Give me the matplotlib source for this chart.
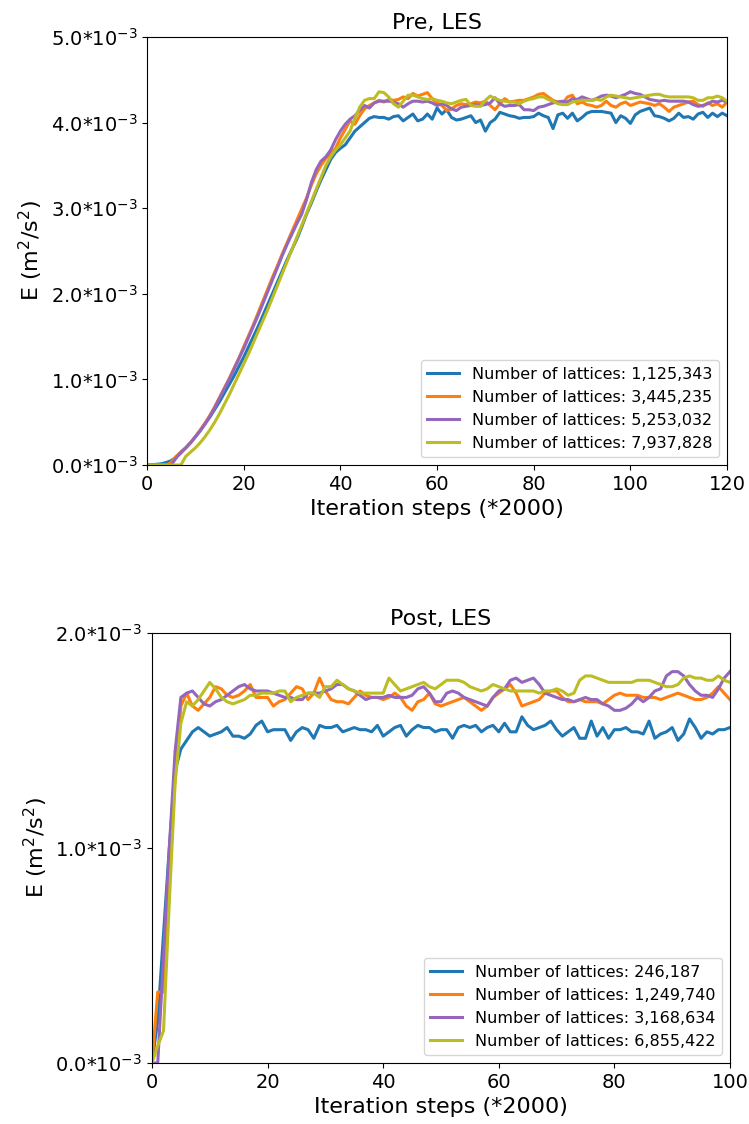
import matplotlib
matplotlib.use("Agg")
import matplotlib.pyplot as plt
import numpy as np

# ---------------- data (E in units of 1e-3 m^2/s^2) ----------------
pre_steps = list(range(0, 121))
pre_labels = ["Number of lattices: 1,125,343", "Number of lattices: 3,445,235",
              "Number of lattices: 5,253,032", "Number of lattices: 7,937,828"]
pre_blue = [0.0, 0.003, 0.008, 0.015, 0.03, 0.05, 0.09, 0.14, 0.2, 0.26,
            0.33, 0.4, 0.48, 0.56, 0.65, 0.74, 0.84, 0.94, 1.04, 1.15,
            1.26, 1.38, 1.5, 1.62, 1.75, 1.88, 2.01, 2.14, 2.27, 2.40,
            2.52, 2.64, 2.78, 2.93, 3.06, 3.2, 3.33, 3.45, 3.57, 3.65,
            3.70, 3.74, 3.82, 3.90, 3.95, 4.0, 4.05, 4.07, 4.06, 4.06,
            4.04, 4.07, 4.08, 4.02, 4.06, 4.10, 4.02, 4.04, 4.10, 4.04,
            4.17, 4.10, 4.15, 4.06, 4.03, 4.04, 4.06, 4.08, 4.00, 4.03,
            3.90, 4.00, 4.04, 4.12, 4.10, 4.08, 4.07, 4.05, 4.06, 4.06,
            4.07, 4.11, 4.08, 4.06, 3.93, 4.09, 4.11, 4.05, 4.11, 4.02,
            4.06, 4.11, 4.13, 4.13, 4.13, 4.12, 4.11, 4.00, 4.08, 4.05,
            3.99, 4.09, 4.13, 4.15, 4.17, 4.08, 4.07, 4.05, 4.02, 4.05,
            4.11, 4.06, 4.07, 4.04, 4.10, 4.12, 4.06, 4.11, 4.07, 4.11, 4.08]
pre_orange = [0.0, 0.0, 0.0, 0.0, 0.0, 0.03, 0.1, 0.15, 0.2, 0.26,
              0.33, 0.41, 0.49, 0.58, 0.68, 0.79, 0.90, 1.01, 1.13, 1.25,
              1.38, 1.51, 1.64, 1.78, 1.92, 2.06, 2.20, 2.33, 2.47, 2.60,
              2.73, 2.86, 2.99, 3.12, 3.27, 3.40, 3.50, 3.58, 3.64, 3.70,
              3.82, 3.92, 4.02, 3.98, 4.08, 4.16, 4.20, 4.23, 4.26, 4.24,
              4.27, 4.26, 4.27, 4.30, 4.28, 4.34, 4.31, 4.33, 4.35, 4.28,
              4.23, 4.20, 4.14, 4.16, 4.20, 4.22, 4.21, 4.22, 4.24, 4.23,
              4.25, 4.20, 4.15, 4.22, 4.28, 4.24, 4.25, 4.26, 4.26, 4.28,
              4.30, 4.33, 4.34, 4.30, 4.26, 4.24, 4.22, 4.30, 4.32, 4.22,
              4.24, 4.21, 4.20, 4.18, 4.20, 4.25, 4.20, 4.18, 4.22, 4.24,
              4.20, 4.22, 4.24, 4.23, 4.22, 4.20, 4.22, 4.18, 4.13, 4.18,
              4.20, 4.22, 4.24, 4.25, 4.21, 4.19, 4.23, 4.20, 4.22, 4.18, 4.24]
pre_purple = [0.0, 0.0, 0.0, 0.0, 0.0, 0.0, 0.08, 0.15, 0.2, 0.26,
              0.33, 0.40, 0.48, 0.57, 0.67, 0.78, 0.89, 1.00, 1.12, 1.24,
              1.36, 1.49, 1.62, 1.75, 1.89, 2.03, 2.17, 2.31, 2.45, 2.58,
              2.70, 2.82, 2.93, 3.10, 3.30, 3.45, 3.55, 3.60, 3.68, 3.80,
              3.90, 3.98, 4.04, 4.08, 4.14, 4.20, 4.17, 4.23, 4.25, 4.25,
              4.25, 4.24, 4.22, 4.18, 4.22, 4.25, 4.25, 4.24, 4.25, 4.23,
              4.20, 4.22, 4.20, 4.16, 4.14, 4.18, 4.19, 4.20, 4.21, 4.20,
              4.21, 4.23, 4.29, 4.22, 4.19, 4.20, 4.20, 4.21, 4.15, 4.15,
              4.14, 4.18, 4.19, 4.21, 4.23, 4.24, 4.25, 4.24, 4.28, 4.27,
              4.30, 4.28, 4.26, 4.28, 4.31, 4.32, 4.31, 4.29, 4.31, 4.33,
              4.36, 4.34, 4.33, 4.30, 4.27, 4.26, 4.25, 4.26, 4.25, 4.25,
              4.25, 4.25, 4.24, 4.21, 4.19, 4.20, 4.22, 4.25, 4.24, 4.26, 4.24]
pre_olive = [0.0, 0.0, 0.0, 0.0, 0.0, 0.0, 0.0, 0.0, 0.1, 0.15,
             0.2, 0.26, 0.33, 0.41, 0.50, 0.60, 0.71, 0.82, 0.94, 1.06,
             1.18, 1.30, 1.43, 1.56, 1.69, 1.82, 1.96, 2.10, 2.24, 2.38,
             2.52, 2.66, 2.80, 2.94, 3.08, 3.22, 3.36, 3.50, 3.60, 3.68,
             3.74, 3.82, 3.90, 4.05, 4.18, 4.26, 4.28, 4.28, 4.36, 4.35,
             4.30, 4.22, 4.18, 4.25, 4.32, 4.32, 4.30, 4.28, 4.27, 4.28,
             4.26, 4.25, 4.23, 4.22, 4.24, 4.26, 4.27, 4.20, 4.19, 4.19,
             4.26, 4.31, 4.28, 4.26, 4.25, 4.24, 4.24, 4.22, 4.25, 4.27,
             4.28, 4.30, 4.30, 4.27, 4.25, 4.22, 4.21, 4.21, 4.24, 4.25,
             4.26, 4.26, 4.26, 4.27, 4.26, 4.30, 4.32, 4.31, 4.30, 4.29,
             4.28, 4.29, 4.30, 4.31, 4.32, 4.33, 4.33, 4.31, 4.30, 4.30,
             4.30, 4.30, 4.30, 4.29, 4.26, 4.26, 4.29, 4.29, 4.31, 4.29, 4.25]

post_steps = list(range(0, 101))
post_labels = ["Number of lattices: 246,187", "Number of lattices: 1,249,740",
               "Number of lattices: 3,168,634", "Number of lattices: 6,855,422"]
post_blue = [0.0, 0.2, 0.6, 1.0, 1.36, 1.46, 1.50, 1.54, 1.56, 1.54,
             1.52, 1.53, 1.54, 1.56, 1.52, 1.52, 1.51, 1.53, 1.57, 1.59,
             1.54, 1.55, 1.55, 1.55, 1.50, 1.54, 1.56, 1.55, 1.51, 1.57,
             1.56, 1.56, 1.57, 1.54, 1.55, 1.56, 1.55, 1.55, 1.54, 1.57,
             1.52, 1.54, 1.56, 1.57, 1.52, 1.55, 1.57, 1.56, 1.56, 1.54,
             1.55, 1.55, 1.51, 1.56, 1.57, 1.56, 1.57, 1.54, 1.56, 1.57,
             1.54, 1.58, 1.54, 1.54, 1.61, 1.57, 1.55, 1.56, 1.57, 1.59,
             1.55, 1.52, 1.54, 1.56, 1.51, 1.51, 1.59, 1.52, 1.56, 1.51,
             1.55, 1.55, 1.56, 1.54, 1.54, 1.53, 1.59, 1.51, 1.53, 1.54,
             1.56, 1.50, 1.53, 1.60, 1.56, 1.51, 1.54, 1.53, 1.55, 1.55, 1.56]
post_orange = [0.0, 0.33, 0.33, 0.91, 1.32, 1.66, 1.72, 1.66, 1.64, 1.67,
               1.70, 1.75, 1.74, 1.71, 1.70, 1.71, 1.73, 1.76, 1.70, 1.70,
               1.70, 1.66, 1.68, 1.69, 1.72, 1.75, 1.74, 1.69, 1.72, 1.79,
               1.73, 1.69, 1.68, 1.68, 1.67, 1.70, 1.73, 1.71, 1.70, 1.70,
               1.69, 1.70, 1.72, 1.70, 1.66, 1.64, 1.68, 1.69, 1.72, 1.67,
               1.66, 1.67, 1.68, 1.69, 1.70, 1.68, 1.66, 1.64, 1.66, 1.70,
               1.72, 1.74, 1.76, 1.72, 1.66, 1.67, 1.68, 1.69, 1.72, 1.73,
               1.73, 1.70, 1.68, 1.68, 1.69, 1.68, 1.68, 1.68, 1.67, 1.69,
               1.71, 1.72, 1.71, 1.71, 1.71, 1.70, 1.70, 1.70, 1.69, 1.70,
               1.71, 1.72, 1.71, 1.70, 1.69, 1.69, 1.70, 1.72, 1.75, 1.72, 1.69]
post_purple = [0.0, 0.0, 0.5, 1.0, 1.45, 1.70, 1.72, 1.73, 1.70, 1.67,
               1.66, 1.68, 1.69, 1.71, 1.73, 1.75, 1.76, 1.74, 1.73, 1.73,
               1.73, 1.72, 1.71, 1.70, 1.70, 1.69, 1.69, 1.72, 1.72, 1.72,
               1.73, 1.74, 1.76, 1.76, 1.74, 1.73, 1.71, 1.69, 1.70, 1.70,
               1.70, 1.71, 1.70, 1.70, 1.70, 1.71, 1.74, 1.75, 1.72, 1.68,
               1.68, 1.72, 1.73, 1.72, 1.70, 1.69, 1.68, 1.67, 1.66, 1.70,
               1.73, 1.74, 1.78, 1.79, 1.77, 1.78, 1.79, 1.76, 1.72, 1.71,
               1.70, 1.69, 1.69, 1.68, 1.69, 1.70, 1.69, 1.69, 1.67, 1.66,
               1.64, 1.64, 1.65, 1.67, 1.70, 1.68, 1.70, 1.73, 1.74, 1.80,
               1.82, 1.82, 1.80, 1.76, 1.73, 1.71, 1.71, 1.70, 1.74, 1.79, 1.82]
post_olive = [0.0, 0.08, 0.15, 0.75, 1.30, 1.58, 1.68, 1.66, 1.69, 1.73,
              1.77, 1.74, 1.70, 1.68, 1.67, 1.68, 1.69, 1.71, 1.71, 1.72,
              1.72, 1.72, 1.73, 1.73, 1.68, 1.70, 1.71, 1.72, 1.72, 1.70,
              1.75, 1.75, 1.78, 1.76, 1.74, 1.73, 1.72, 1.72, 1.72, 1.72,
              1.72, 1.79, 1.76, 1.73, 1.74, 1.75, 1.76, 1.77, 1.75, 1.74,
              1.76, 1.78, 1.78, 1.78, 1.77, 1.75, 1.74, 1.73, 1.74, 1.76,
              1.75, 1.74, 1.73, 1.73, 1.73, 1.73, 1.73, 1.72, 1.73, 1.73,
              1.74, 1.73, 1.71, 1.72, 1.78, 1.80, 1.80, 1.79, 1.78, 1.77,
              1.77, 1.77, 1.77, 1.77, 1.78, 1.78, 1.78, 1.77, 1.76, 1.75,
              1.75, 1.76, 1.79, 1.80, 1.79, 1.79, 1.78, 1.78, 1.80, 1.78, 1.77]

pre_yticks = [0, 1, 2, 3, 4, 5]
post_yticks = [0, 1, 2]
colors = ["#1f77b4", "#ff7f0e", "#9467bd", "#bcbd22"]

fig = plt.figure(figsize=(7.49, 11.24), dpi=100)
ax1 = fig.add_axes([0.1963, 0.5863, 0.7744, 0.3808])
ax2 = fig.add_axes([0.2029, 0.0543, 0.7717, 0.3826])


def tick_label(v):
    return r"%.1f*10$^{-3}$" % v


for ax, steps, series, labels, yt, xmax, title in [
        (ax1, pre_steps, [pre_blue, pre_orange, pre_purple, pre_olive], pre_labels, pre_yticks, 120, "Pre, LES"),
        (ax2, post_steps, [post_blue, post_orange, post_purple, post_olive], post_labels, post_yticks, 100, "Post, LES")]:
    for s, c, lab in zip(series, colors, labels):
        ax.plot(steps, np.array(s) * 1e-3, color=c, lw=2.2, label=lab)
    ax.set_xlim(0, xmax)
    ax.set_ylim(0, yt[-1] * 1e-3)
    ax.set_yticks([v * 1e-3 for v in yt])
    ax.set_yticklabels([tick_label(v) for v in yt])
    ax.tick_params(labelsize=14)
    ax.set_xlabel("Iteration steps (*2000)", fontsize=16)
    ax.set_ylabel(r"E (m$^2$/s$^2$)", fontsize=16)
    ax.set_title(title, fontsize=16)
    ax.legend(loc="lower right", fontsize=11.5)

fig.savefig("out.png", dpi=100)
